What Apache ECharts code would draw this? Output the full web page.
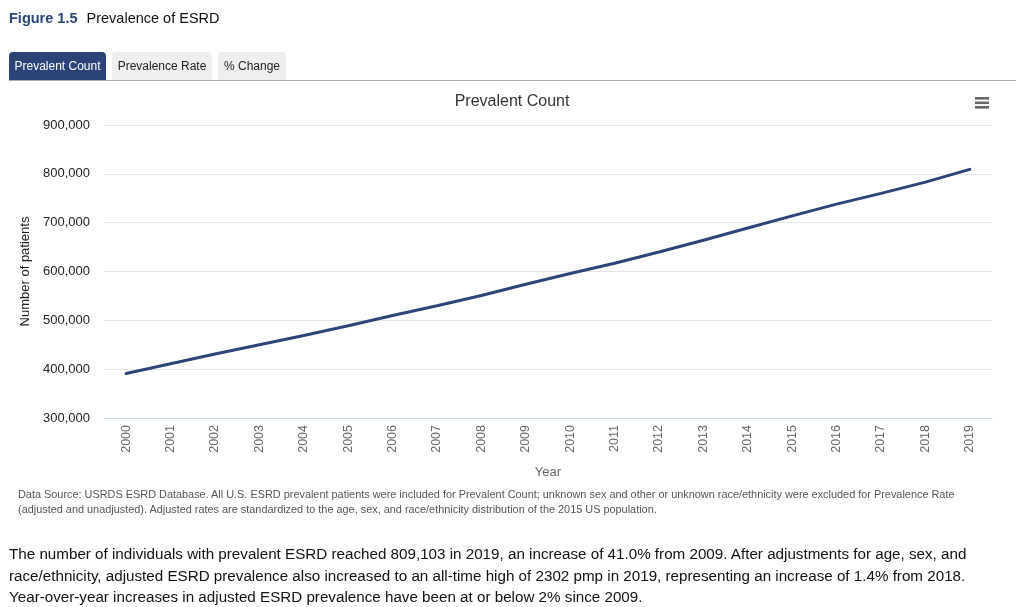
<!DOCTYPE html>
<html>
<head>
<meta charset="utf-8">
<script src="https://cdn.jsdelivr.net/npm/echarts@6/dist/echarts.min.js"></script>
<style>
  html, body { margin: 0; padding: 0; width: 1024px; height: 607px; overflow: hidden; background: #fff;
    font-family: "Liberation Sans", Arial, Helvetica, sans-serif; }
  #chart { position: absolute; left: 0; top: 0; width: 1024px; height: 607px; }
  .abs { position: absolute; z-index: 2; white-space: nowrap; }
  #figtitle { left: 9px; top: 10px; font-size: 14.5px; color: #111; }
  #figtitle b { color: #2a4679; margin-right: 5px; }
  .tab { top: 52px; height: 29px; line-height: 29px; font-size: 12px; padding: 0; border-radius: 4px 4px 0 0;
    background: #efefef; color: #222; box-sizing: border-box; text-align: center; }
  #tab1 { left: 9px; width: 97px; background: #2a4478; color: #fff; }
  #tab2 { left: 112px; width: 100px; }
  #tab3 { left: 218px; width: 68px; }
  #tabline { left: 9px; top: 80px; width: 1007px; height: 0; border-top: 1.5px solid #a3a9b5; }
  #source { left: 18px; top: 487px; width: 960px; font-size: 10.9px; line-height: 15px; color: #555; white-space: normal; }
  #para { left: 9px; top: 543px; width: 990px; font-size: 15.2px; line-height: 21.5px; color: #111; white-space: normal; }
</style>
</head>
<body>
<div id="chart"></div>
<div class="abs" id="figtitle"><b>Figure 1.5</b> Prevalence of ESRD</div>
<div class="abs tab" id="tab1">Prevalent Count</div>
<div class="abs tab" id="tab2">Prevalence Rate</div>
<div class="abs tab" id="tab3">% Change</div>
<div class="abs" id="tabline"></div>
<div class="abs" id="source">Data Source: USRDS ESRD Database. All U.S. ESRD prevalent patients were included for Prevalent Count; unknown sex and other or unknown race/ethnicity were excluded for Prevalence Rate (adjusted and unadjusted). Adjusted rates are standardized to the age, sex, and race/ethnicity distribution of the 2015 US population.</div>
<div class="abs" id="para">The number of individuals with prevalent ESRD reached 809,103 in 2019, an increase of 41.0% from 2009. After adjustments for age, sex, and race/ethnicity, adjusted ESRD prevalence also increased to an all-time high of 2302 pmp in 2019, representing an increase of 1.4% from 2018. Year-over-year increases in adjusted ESRD prevalence have been at or below 2% since 2009.</div>
<script>
const years = ['2000','2001','2002','2003','2004','2005','2006','2007','2008','2009',
               '2010','2011','2012','2013','2014','2015','2016','2017','2018','2019'];
const prevalentCount = [391000, 411000, 431000, 450000, 469000, 489000, 510000, 530000, 551000, 573800,
                        596000, 617000, 640000, 664000, 689000, 714000, 738000, 760000, 783000, 809103];
const yMin = 300000, yMax = 900000, yStep = 100000;

const chart = echarts.init(document.getElementById('chart'));
chart.setOption({
  animation: false,
  textStyle: { fontFamily: '"Liberation Sans", Arial, Helvetica, sans-serif' },
  title: {
    text: 'Prevalent Count', left: 'center', top: 89,
    textStyle: { fontSize: 16, fontWeight: 'normal', color: '#333' }
  },
  grid: { left: 104, right: 32, top: 125, bottom: 189 },
  xAxis: {
    type: 'category', data: years, boundaryGap: true,
    axisLine: { lineStyle: { color: '#ccd6eb' } },
    axisTick: { show: false },
    axisLabel: { rotate: 90, color: '#666', fontSize: 12.5, margin: 7 },
    name: 'Year', nameLocation: 'middle', nameGap: 48,
    nameTextStyle: { color: '#666', fontSize: 13 }
  },
  yAxis: {
    type: 'value', min: yMin, max: yMax, interval: yStep,
    axisLine: { show: false }, axisTick: { show: false },
    splitLine: { lineStyle: { color: '#e6e6e6' } },
    axisLabel: { color: '#222', fontSize: 13, margin: 14,
      formatter: v => v.toLocaleString('en-US') },
    name: 'Number of patients', nameLocation: 'middle', nameRotate: 90, nameGap: 67,
    nameTextStyle: { color: '#222', fontSize: 13 }
  },
  graphic: [
    { type: 'rect', left: 975, top: 97, shape: { width: 14, height: 2.6 }, style: { fill: '#666' } },
    { type: 'rect', left: 975, top: 101.5, shape: { width: 14, height: 2.6 }, style: { fill: '#666' } },
    { type: 'rect', left: 975, top: 106, shape: { width: 14, height: 2.6 }, style: { fill: '#666' } }
  ],
  series: [{
    type: 'line', data: prevalentCount, showSymbol: false, symbol: 'none',
    lineStyle: { color: '#2c4479', width: 3, cap: 'round' }
  }]
});
</script>
</body>
</html>
